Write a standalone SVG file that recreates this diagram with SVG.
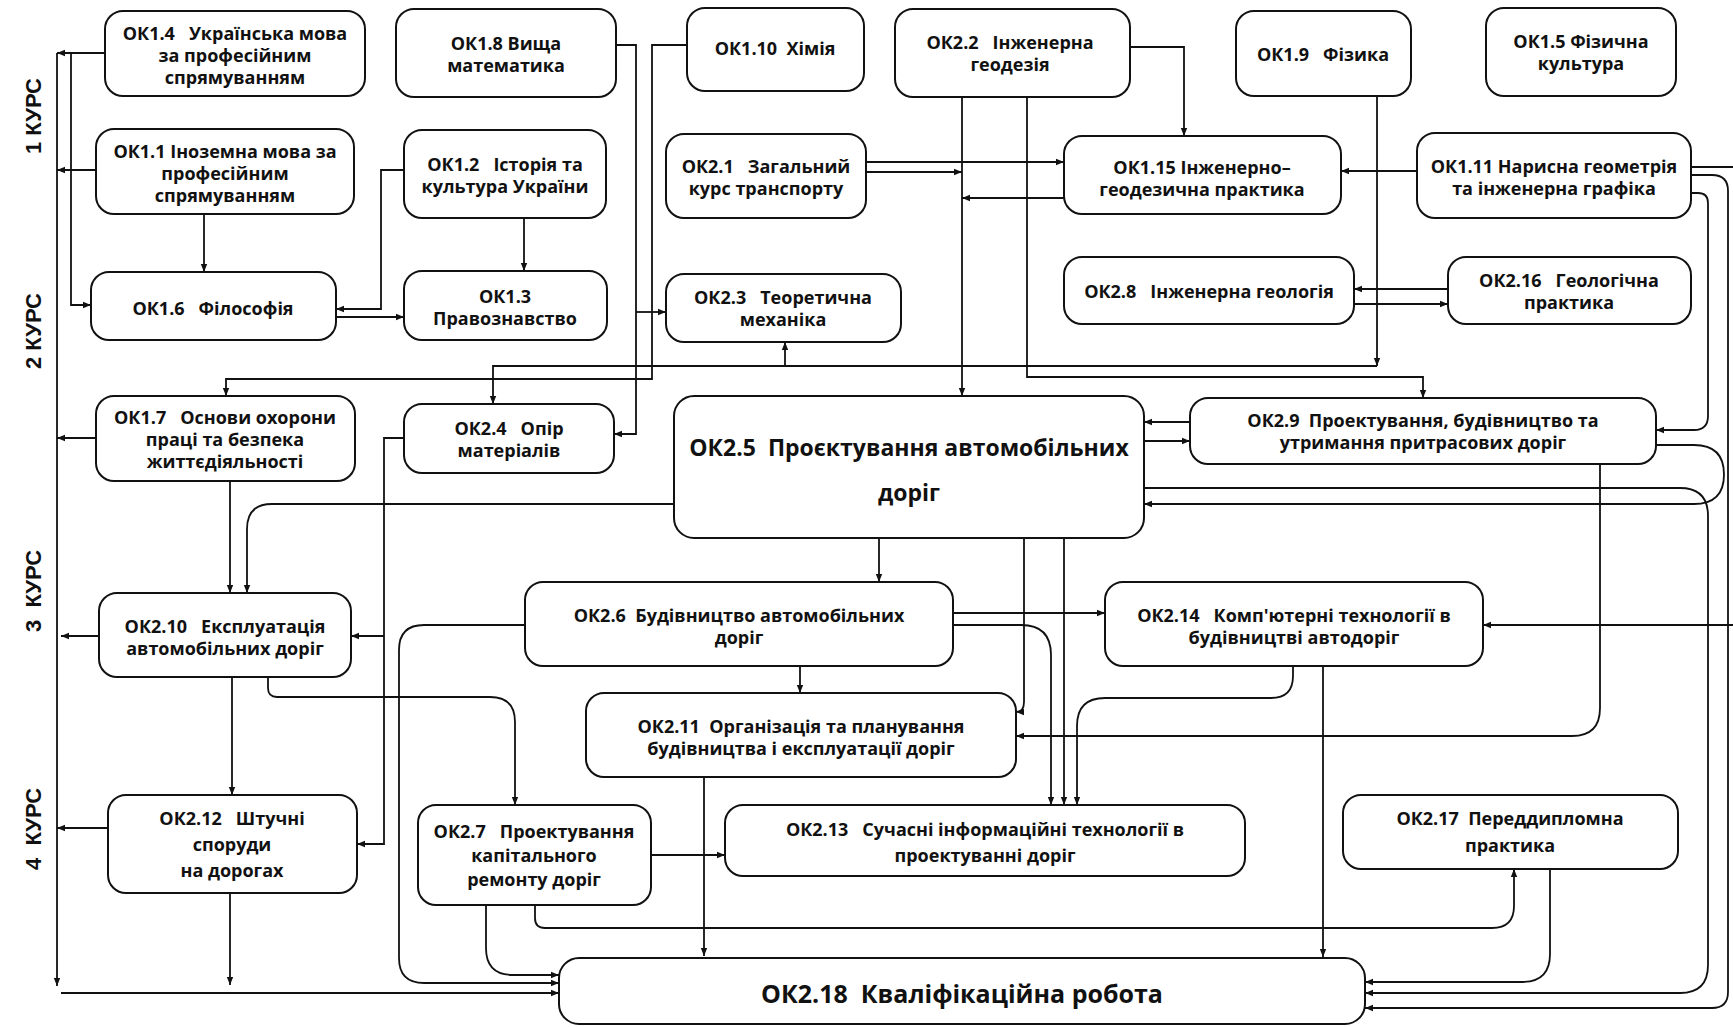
<svg xmlns="http://www.w3.org/2000/svg" width="1733" height="1027" viewBox="0 0 1733 1027">
<style>
.n rect{fill:#fff;stroke:#111;stroke-width:2}
text{font-family:"Open Sans","Noto Sans","DejaVu Sans",sans-serif;font-weight:700;font-size:18px;text-anchor:middle;dominant-baseline:central;fill:#111;white-space:pre}
.big{font-size:23px}
.huge{font-size:25px}
.k{font-family:"Liberation Sans",Arial,sans-serif;font-size:22px}
.c path{fill:none;stroke:#111;stroke-width:1.8;marker-end:url(#a)}
.c path.p{marker-end:none}
</style>
<defs>
<marker id="a" viewBox="0 0 10 10" refX="10" refY="5" markerWidth="8" markerHeight="8" markerUnits="userSpaceOnUse" orient="auto"><path d="M0,1 L10,5 L0,9 z" fill="#111"/></marker>
</defs>
<rect width="1733" height="1027" fill="#fff"/>
<g id="labels">
<text class="k" transform="translate(33,116) rotate(-90)">1 КУРС</text>
<text class="k" transform="translate(33,331) rotate(-90)">2 КУРС</text>
<text class="k" transform="translate(33,591) rotate(-90)" xml:space="preserve">3  КУРС</text>
<text class="k" transform="translate(33,829) rotate(-90)" xml:space="preserve">4  КУРС</text>
</g>
<g id="connectors" class="c">
<path class="p" d="M57,53 V985"/>
<path d="M57,985 V986"/>
<path d="M105,53 H57"/>
<path d="M71,53 V305 H91"/>
<path d="M96,170 H57"/>
<path d="M96,438 H57"/>
<path d="M99,636 H61"/>
<path d="M108,828 H57"/>
<path d="M61,993 H559"/>
<path d="M204,214 V272"/>
<path d="M524,218 V271"/>
<path d="M404,170 H381 V309 H336"/>
<path d="M336,317 H404"/>
<path d="M616,45 H636 V434 H614"/>
<path d="M636,312 H666"/>
<path d="M688,45 H652 V379 H226 V396"/>
<path d="M1377,96 V366"/>
<path d="M1377,366 H493 V404"/>
<path d="M785,366 V342"/>
<path d="M962,97 V396"/>
<path d="M1027,97 V377 H1423 V398"/>
<path d="M1130,47 H1184 V136"/>
<path d="M866,162 H1064"/>
<path d="M866,172 H962"/>
<path d="M1064,198 H962"/>
<path d="M1417,171 H1341"/>
<path d="M1448,289 H1354"/>
<path d="M1354,304 H1448"/>
<path d="M1691,167 H1745 V625 H1483"/>
<path d="M1691,175 H1712 Q1728,175 1728,191 V992 Q1728,1008 1712,1008 H1365"/>
<path d="M1691,193 H1698 Q1708,193 1708,203 V416 Q1708,430 1694,430 H1656"/>
<path d="M1190,422 H1144"/>
<path d="M1144,441 H1190"/>
<path d="M1656,445 H1694 Q1724,445 1724,474.5 Q1724,504 1694,504 H1144"/>
<path d="M1144,488 H1680 Q1708,488 1708,516 V965 Q1708,993 1680,993 H1365"/>
<path d="M674,504 H272 Q247,504 247,529 V593"/>
<path d="M230,481 V593"/>
<path d="M404,438 H384 V844 H357"/>
<path d="M384,636 H351"/>
<path d="M232,677 V795"/>
<path d="M268,677 V688 Q268,697 277,697 H490 Q515,697 515,722 V805"/>
<path d="M879,538 V582"/>
<path d="M525,625 H424 Q399,625 399,650 V958 Q399,983 424,983 H559"/>
<path d="M486,905 V948 Q486,975 513,975 H559"/>
<path d="M535,905 V918 Q535,928 545,928 H1492 Q1514,928 1514,906 V869"/>
<path d="M651,855 H725"/>
<path d="M800,666 V693"/>
<path d="M953,613 H1105"/>
<path d="M953,625 H1021 Q1051,625 1051,655 V805"/>
<path d="M1024,538 V702 Q1024,712 1016,712"/>
<path d="M1064,538 V805"/>
<path d="M1293,666 V676 Q1293,698 1271,698 H1105 Q1077,698 1077,726 V805"/>
<path d="M1323,666 V957"/>
<path d="M1600,464 V708 Q1600,736 1572,736 H1016"/>
<path d="M704,777 V956"/>
<path d="M230,893 V985"/>
<path d="M1550,869 V954 Q1550,982 1522,982 H1365"/>
</g>
<g id="ok1-4" class="n"><rect x="105" y="11" width="260" height="85" rx="18"/><text xml:space="preserve"><tspan x="235" y="33">ОК1.4   Українська мова</tspan><tspan x="235" y="55">за професійним</tspan><tspan x="235" y="77">спрямуванням</tspan></text></g>
<g id="ok1-8" class="n"><rect x="396" y="9" width="220" height="88" rx="18"/><text><tspan x="506" y="42.5">ОК1.8 Вища</tspan><tspan x="506" y="64.5">математика</tspan></text></g>
<g id="ok1-10" class="n"><rect x="687" y="8" width="177" height="83" rx="18"/><text x="775" y="48" xml:space="preserve">ОК1.10  Хімія</text></g>
<g id="ok2-2" class="n"><rect x="895" y="9" width="235" height="88" rx="18"/><text xml:space="preserve"><tspan x="1010" y="42">ОК2.2   Інженерна</tspan><tspan x="1010" y="64">геодезія</tspan></text></g>
<g id="ok1-9" class="n"><rect x="1236" y="11" width="175" height="85" rx="18"/><text x="1323" y="54" xml:space="preserve">ОК1.9   Фізика</text></g>
<g id="ok1-5" class="n"><rect x="1486" y="8" width="190" height="88" rx="18"/><text><tspan x="1581" y="41">ОК1.5 Фізична</tspan><tspan x="1581" y="63">культура</tspan></text></g>
<g id="ok1-1" class="n"><rect x="96" y="129" width="258" height="85" rx="18"/><text><tspan x="225" y="150.5">ОК1.1 Іноземна мова за</tspan><tspan x="225" y="172.5">професійним</tspan><tspan x="225" y="194.5">спрямуванням</tspan></text></g>
<g id="ok1-2" class="n"><rect x="404" y="130" width="202" height="88" rx="18"/><text xml:space="preserve"><tspan x="505" y="163.5">ОК1.2   Історія та</tspan><tspan x="505" y="185.5">культура України</tspan></text></g>
<g id="ok2-1" class="n"><rect x="666" y="134" width="200" height="84" rx="18"/><text xml:space="preserve"><tspan x="766" y="165.5">ОК2.1   Загальний</tspan><tspan x="766" y="187.5">курс транспорту</tspan></text></g>
<g id="ok1-15" class="n"><rect x="1064" y="136" width="277" height="78" rx="18"/><text><tspan x="1202" y="166.5">ОК1.15 Інженерно–</tspan><tspan x="1202" y="188.5">геодезична практика</tspan></text></g>
<g id="ok1-11" class="n"><rect x="1417" y="133" width="274" height="85" rx="18"/><text><tspan x="1554" y="165.5">ОК1.11 Нарисна геометрія</tspan><tspan x="1554" y="187.5">та інженерна графіка</tspan></text></g>
<g id="ok1-6" class="n"><rect x="91" y="272" width="245" height="68" rx="18"/><text x="213" y="308" xml:space="preserve">ОК1.6   Філософія</text></g>
<g id="ok1-3" class="n"><rect x="404" y="271" width="203" height="69" rx="18"/><text><tspan x="505" y="295.5">ОК1.3</tspan><tspan x="505" y="317.5">Правознавство</tspan></text></g>
<g id="ok2-3" class="n"><rect x="666" y="274" width="235" height="68" rx="18"/><text xml:space="preserve"><tspan x="783" y="296.5">ОК2.3   Теоретична</tspan><tspan x="783" y="318.5">механіка</tspan></text></g>
<g id="ok2-8" class="n"><rect x="1064" y="257" width="290" height="67" rx="18"/><text x="1209" y="291" xml:space="preserve">ОК2.8   Інженерна геологія</text></g>
<g id="ok2-16" class="n"><rect x="1448" y="257" width="243" height="67" rx="18"/><text xml:space="preserve"><tspan x="1569" y="280">ОК2.16   Геологічна</tspan><tspan x="1569" y="302">практика</tspan></text></g>
<g id="ok1-7" class="n"><rect x="96" y="396" width="259" height="85" rx="18"/><text xml:space="preserve"><tspan x="225" y="417">ОК1.7   Основи охорони</tspan><tspan x="225" y="439">праці та безпека</tspan><tspan x="225" y="461">життєдіяльності</tspan></text></g>
<g id="ok2-4" class="n"><rect x="404" y="404" width="210" height="69" rx="18"/><text xml:space="preserve"><tspan x="509" y="428">ОК2.4   Опір</tspan><tspan x="509" y="450">матеріалів</tspan></text></g>
<g id="ok2-5" class="n"><rect x="674" y="396" width="470" height="142" rx="20"/><text class="big" xml:space="preserve"><tspan x="909" y="447">ОК2.5  Проєктування автомобільних</tspan><tspan x="909" y="492">доріг</tspan></text></g>
<g id="ok2-9" class="n"><rect x="1190" y="398" width="466" height="66" rx="18"/><text xml:space="preserve"><tspan x="1423" y="420">ОК2.9  Проектування, будівництво та</tspan><tspan x="1423" y="442">утримання притрасових доріг</tspan></text></g>
<g id="ok2-10" class="n"><rect x="99" y="593" width="252" height="84" rx="18"/><text xml:space="preserve"><tspan x="225" y="625.5">ОК2.10   Експлуатація</tspan><tspan x="225" y="647.5">автомобільних доріг</tspan></text></g>
<g id="ok2-6" class="n"><rect x="525" y="582" width="428" height="84" rx="18"/><text xml:space="preserve"><tspan x="739" y="614.5">ОК2.6  Будівництво автомобільних</tspan><tspan x="739" y="636.5">доріг</tspan></text></g>
<g id="ok2-14" class="n"><rect x="1105" y="582" width="378" height="84" rx="18"/><text xml:space="preserve"><tspan x="1294" y="615">ОК2.14   Комп'ютерні технології в</tspan><tspan x="1294" y="637">будівництві автодоріг</tspan></text></g>
<g id="ok2-11" class="n"><rect x="586" y="693" width="430" height="84" rx="18"/><text xml:space="preserve"><tspan x="801" y="725.5">ОК2.11  Організація та планування</tspan><tspan x="801" y="747.5">будівництва і експлуатації доріг</tspan></text></g>
<g id="ok2-12" class="n"><rect x="108" y="795" width="249" height="98" rx="18"/><text xml:space="preserve"><tspan x="232" y="818">ОК2.12   Штучні</tspan><tspan x="232" y="844">споруди</tspan><tspan x="232" y="870">на дорогах</tspan></text></g>
<g id="ok2-7" class="n"><rect x="418" y="805" width="233" height="100" rx="18"/><text xml:space="preserve"><tspan x="534" y="831">ОК2.7   Проектування</tspan><tspan x="534" y="855">капітального</tspan><tspan x="534" y="879">ремонту доріг</tspan></text></g>
<g id="ok2-13" class="n"><rect x="725" y="805" width="520" height="71" rx="18"/><text xml:space="preserve"><tspan x="985" y="829">ОК2.13   Сучасні інформаційні технології в</tspan><tspan x="985" y="855">проектуванні доріг</tspan></text></g>
<g id="ok2-17" class="n"><rect x="1343" y="795" width="335" height="74" rx="18"/><text xml:space="preserve"><tspan x="1510" y="818">ОК2.17  Переддипломна</tspan><tspan x="1510" y="845">практика</tspan></text></g>
<g id="ok2-18" class="n"><rect x="559" y="958" width="806" height="66" rx="20"/><text class="huge" x="962" y="993" xml:space="preserve">ОК2.18  Кваліфікаційна робота</text></g>
</svg>
